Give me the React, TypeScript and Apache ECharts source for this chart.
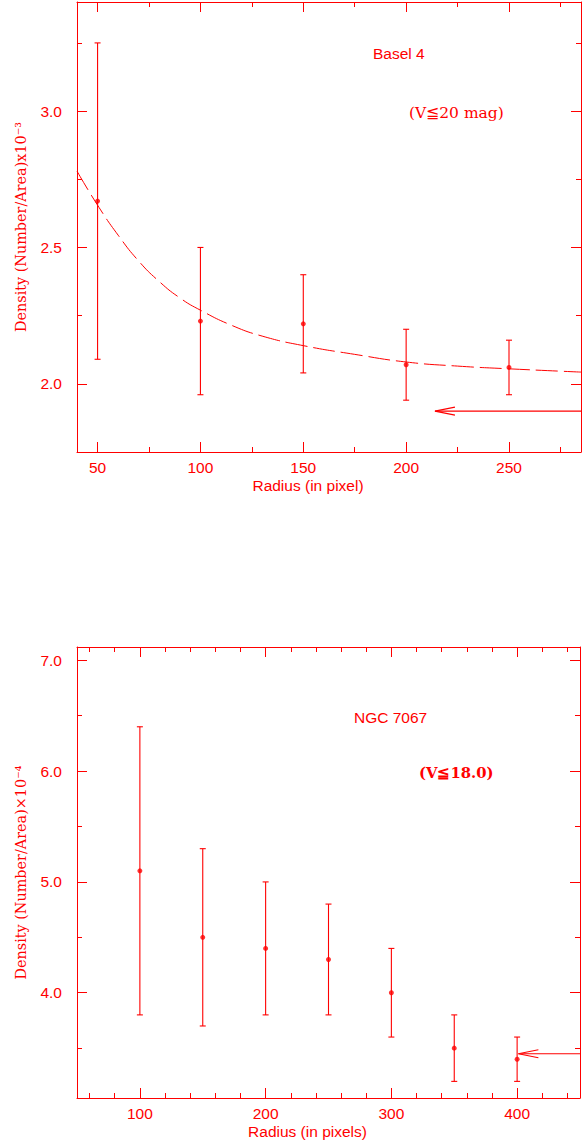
import React, { useEffect, useRef } from "react";
import * as echarts from "echarts";

// ---------- Data: Basel 4 ----------
const basel4Radius = [50, 100, 150, 200, 250];
const basel4Density = [2.67, 2.23, 2.22, 2.07, 2.06];
const basel4ErrLow = [2.09, 1.96, 2.04, 1.94, 1.96];
const basel4ErrHigh = [3.25, 2.5, 2.4, 2.2, 2.16];
const basel4FitRadius = [40, 50, 60, 70, 80, 90, 100, 115, 130, 150, 175, 200, 225, 250, 285];
const basel4FitDensity = [2.78, 2.655, 2.545, 2.45, 2.375, 2.315, 2.27, 2.215, 2.175, 2.14, 2.108, 2.08, 2.065, 2.055, 2.043];
const basel4Arrow = [214, 285, 1.9]; // from radius, to radius, background level
const basel4XMajor = [50, 100, 150, 200, 250];
const basel4XMinor = [75, 125, 175, 225, 275];
const basel4YMajor = [2.0, 2.5, 3.0];
const basel4YMinor = [2.25, 2.75, 3.25];

// ---------- Data: NGC 7067 ----------
const ngcRadius = [100, 150, 200, 250, 300, 350, 400];
const ngcDensity = [5.1, 4.5, 4.4, 4.3, 4.0, 3.5, 3.4];
const ngcErrLow = [3.8, 3.7, 3.8, 3.8, 3.6, 3.2, 3.2];
const ngcErrHigh = [6.4, 5.3, 5.0, 4.8, 4.4, 3.8, 3.6];
const ngcArrow = [401, 450, 3.45];
const ngcXMajor = [100, 200, 300, 400];
const ngcXMinor = [60, 80, 120, 140, 160, 180, 220, 240, 260, 280, 320, 340, 360, 380, 420, 440];
const ngcYMajor = [4.0, 5.0, 6.0, 7.0];
const ngcYMinor = [3.5, 4.5, 5.5, 6.5];

const RED = "#ff0000";
const SANS = '"Liberation Sans", Arial, Helvetica, sans-serif';
const SERIF = '"DejaVu Serif", "Liberation Serif", serif';

function axesFor(
  kind: "x" | "y",
  grid: number,
  min: number,
  max: number,
  majors: number[],
  minors: number[],
  fmt: (v: number) => string,
  name: string,
  nameExtra: any
) {
  const sides = kind === "x" ? ["bottom", "top"] : ["left", "right"];
  const line = { color: RED, width: 1 };
  const base = { type: "value", gridIndex: grid, min, max, splitLine: { show: false } };
  return [
    {
      ...base,
      position: sides[0],
      axisLine: { show: true, onZero: false, lineStyle: line },
      axisTick: { show: true, inside: true, length: 10, customValues: majors, lineStyle: line },
      axisLabel: {
        show: true,
        customValues: majors,
        formatter: fmt,
        color: RED,
        fontFamily: SANS,
        fontSize: 15.5,
        margin: kind === "x" ? 7 : 15,
      },
      name,
      nameLocation: "middle",
      nameTextStyle: { color: RED, ...nameExtra.style },
      nameGap: nameExtra.gap,
    },
    {
      ...base,
      position: sides[0],
      axisLine: { show: false, onZero: false },
      axisTick: { show: true, inside: true, length: 5, customValues: minors, lineStyle: line },
      axisLabel: { show: false },
    },
    {
      ...base,
      position: sides[1],
      axisLine: { show: true, onZero: false, lineStyle: line },
      axisTick: { show: true, inside: true, length: 10, customValues: majors, lineStyle: line },
      axisLabel: { show: false },
    },
    {
      ...base,
      position: sides[1],
      axisLine: { show: false, onZero: false },
      axisTick: { show: true, inside: true, length: 5, customValues: minors, lineStyle: line },
      axisLabel: { show: false },
    },
  ];
}

const errorBarRender = (params: any, api: any) => {
  const x = api.value(0);
  const lo = api.value(1);
  const hi = api.value(2);
  const top = api.coord([x, hi]);
  const bot = api.coord([x, lo]);
  const w = 3;
  const style = { stroke: RED, lineWidth: 1.1 };
  return {
    type: "group",
    children: [
      { type: "line", shape: { x1: top[0], y1: top[1], x2: bot[0], y2: bot[1] }, style },
      { type: "line", shape: { x1: top[0] - w, y1: top[1], x2: top[0] + w, y2: top[1] }, style },
      { type: "line", shape: { x1: bot[0] - w, y1: bot[1], x2: bot[0] + w, y2: bot[1] }, style },
    ],
  };
};

const arrowRender = (params: any, api: any) => {
  const x0 = api.value(0);
  const x1 = api.value(1);
  const y = api.value(2);
  const p0 = api.coord([x0, y]);
  const p1 = api.coord([x1, y]);
  const style = { stroke: RED, lineWidth: 1.1, fill: "none" };
  return {
    type: "group",
    children: [
      { type: "line", shape: { x1: p0[0], y1: p0[1], x2: p1[0], y2: p1[1] }, style },
      {
        type: "polyline",
        shape: {
          points: [
            [p0[0] + 20, p0[1] - 4],
            [p0[0], p0[1]],
            [p0[0] + 20, p0[1] + 4],
          ],
        },
        style,
      },
    ],
  };
};

const fmt1 = (v: number) => v.toFixed(1);
const fmt0 = (v: number) => String(Math.round(v));

export default function App() {
  const ref = useRef<HTMLDivElement>(null);

  useEffect(() => {
    if (!ref.current) return;
    const chart = echarts.init(ref.current, null, { renderer: "svg" });

    const yNameStyle = { style: { fontFamily: SERIF, fontSize: 14.4 }, gap: 49 };
    const xNameStyle = (pad: number) => ({
      style: { fontFamily: SANS, fontSize: 15.5, padding: [0, pad, 0, 0] },
      gap: 25,
    });

    const xAxes = [
      ...axesFor("x", 0, 40, 285, basel4XMajor, basel4XMinor, fmt0, "Radius (in pixel)", xNameStyle(42)),
      ...axesFor("x", 1, 50, 450, ngcXMajor, ngcXMinor, fmt0, "Radius (in pixels)", xNameStyle(42)),
    ];
    const yAxes = [
      ...axesFor("y", 0, 1.75, 3.4, basel4YMajor, basel4YMinor, fmt1, "Density (Number/Area)x10⁻³", yNameStyle),
      ...axesFor("y", 1, 3.05, 7.12, ngcYMajor, ngcYMinor, fmt1, "Density (Number/Area)×10⁻⁴", yNameStyle),
    ];

    const option: any = {
      animation: false,
      backgroundColor: "#ffffff",
      grid: [
        { left: 77, top: 2, width: 504, height: 450, containLabel: false },
        { left: 77, top: 647, width: 503, height: 451, containLabel: false },
      ],
      xAxis: xAxes,
      yAxis: yAxes,
      graphic: [
        { type: "text", x: 373, y: 53, style: { text: "Basel 4", fill: RED, font: `15.5px ${SANS}`, verticalAlign: "middle" } },
        { type: "text", x: 409, y: 113, style: { text: "(V≦20 mag)", fill: RED, font: `15.5px ${SERIF}`, verticalAlign: "middle" } },
        { type: "text", x: 354, y: 717, style: { text: "NGC 7067", fill: RED, font: `15.5px ${SANS}`, verticalAlign: "middle" } },
        { type: "text", x: 419, y: 772, style: { text: "(V≦18.0)", fill: RED, font: `bold 14.8px ${SERIF}`, verticalAlign: "middle" } },
      ],
      series: [
        {
          type: "line",
          xAxisIndex: 0,
          yAxisIndex: 0,
          data: basel4FitRadius.map((r, i) => [r, basel4FitDensity[i]]),
          smooth: 0.5,
          symbol: "none",
          lineStyle: { color: RED, width: 1, type: [22, 6] },
        },
        {
          type: "custom",
          xAxisIndex: 0,
          yAxisIndex: 0,
          renderItem: errorBarRender,
          encode: { x: 0, y: [1, 2] },
          data: basel4Radius.map((r, i) => [r, basel4ErrLow[i], basel4ErrHigh[i]]),
        },
        {
          type: "scatter",
          xAxisIndex: 0,
          yAxisIndex: 0,
          symbol: "circle",
          symbolSize: 5,
          itemStyle: { color: RED },
          data: basel4Radius.map((r, i) => [r, basel4Density[i]]),
        },
        {
          type: "custom",
          xAxisIndex: 0,
          yAxisIndex: 0,
          renderItem: arrowRender,
          encode: { x: [0, 1], y: 2 },
          data: [basel4Arrow],
        },
        {
          type: "custom",
          xAxisIndex: 4,
          yAxisIndex: 4,
          renderItem: errorBarRender,
          encode: { x: 0, y: [1, 2] },
          data: ngcRadius.map((r, i) => [r, ngcErrLow[i], ngcErrHigh[i]]),
        },
        {
          type: "scatter",
          xAxisIndex: 4,
          yAxisIndex: 4,
          symbol: "circle",
          symbolSize: 5,
          itemStyle: { color: RED },
          data: ngcRadius.map((r, i) => [r, ngcDensity[i]]),
        },
        {
          type: "custom",
          xAxisIndex: 4,
          yAxisIndex: 4,
          renderItem: arrowRender,
          encode: { x: [0, 1], y: 2 },
          data: [ngcArrow],
        },
      ],
    };

    chart.setOption(option);
    return () => chart.dispose();
  }, []);

  return (
    <div
      ref={ref}
      style={{ position: "absolute", left: 0, top: 0, width: 587, height: 1141, background: "#fff" }}
    />
  );
}
